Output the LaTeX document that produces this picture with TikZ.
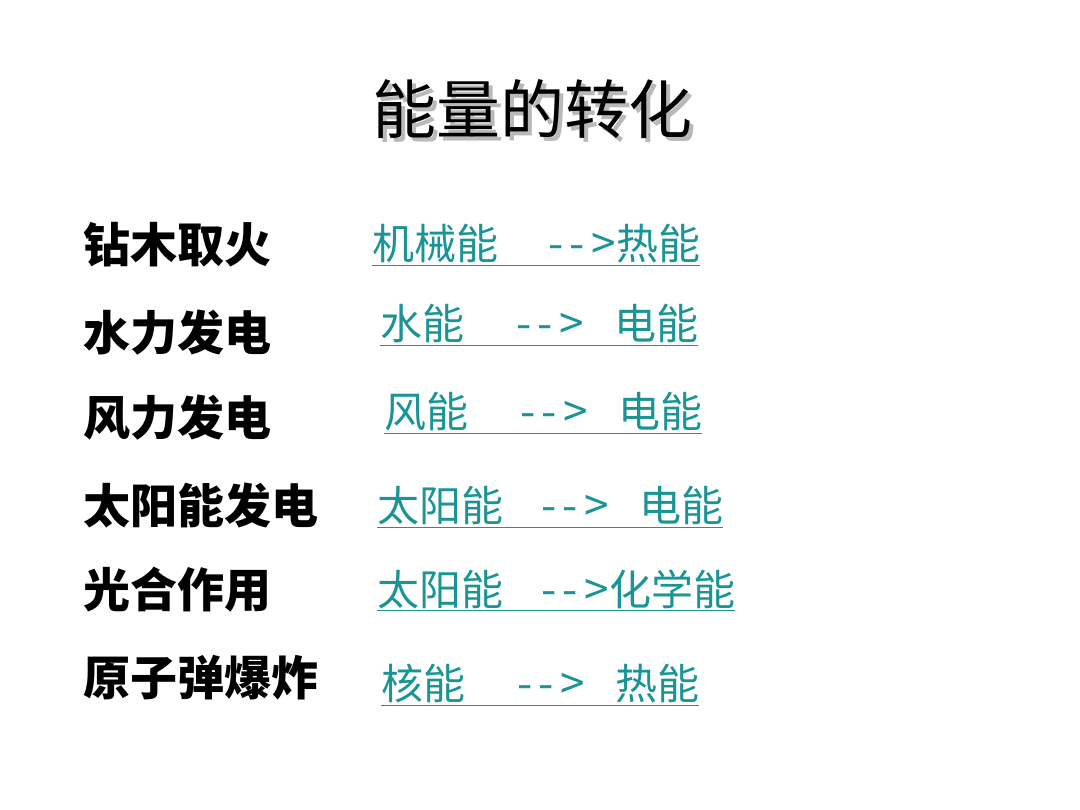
\documentclass[tikz,border=0pt]{standalone}
\usepackage{fontspec}
\setmainfont{Noto Sans CJK SC}
\definecolor{linkc}{HTML}{1A9494}
\newcommand{\arw}{\makebox[68pt][s]{\fontsize{44}{44}\selectfont-\hfil-\hfil>}}
\begin{document}
\begin{tikzpicture}[x=1pt,y=-1pt,
  lab/.style={anchor=west,inner sep=0pt,font=\fontsize{47}{47}\selectfont\bfseries},
  lnk/.style={anchor=west,inner sep=0pt,text=linkc,font=\fontsize{42}{42}\selectfont}]
\useasboundingbox (0,0) rectangle (1080,810);
\node[inner sep=0pt,text=gray!55,font=\fontsize{64}{64}\selectfont] at (536,113) {能量的转化};
\node[inner sep=0pt,font=\fontsize{64}{64}\selectfont] (title) at (532,109) {能量的转化};
\node[lab] (l1) at (83,245) {钻木取火};
\node[lab] (l2) at (83,333) {水力发电};
\node[lab] (l3) at (83,418) {风力发电};
\node[lab] (l4) at (83,505) {太阳能发电};
\node[lab] (l5) at (83,590) {光合作用};
\node[lab] (l6) at (83,678) {原子弹爆炸};
\node[lnk] (r1) at (372,245) {\underline{机械能\hspace{50pt}\arw{}热能}};
\node[lnk] (r2) at (380,325) {\underline{水能\hspace{52pt}\arw\hspace{30pt}电能}};
\node[lnk] (r3) at (384,413) {\underline{风能\hspace{52pt}\arw\hspace{30pt}电能}};
\node[lnk] (r4) at (377,507) {\underline{太阳能\hspace{38pt}\arw\hspace{30pt}电能}};
\node[lnk] (r5) at (377,590) {\underline{太阳能\hspace{38pt}\arw{}化学能}};
\node[lnk] (r6) at (381,685) {\underline{核能\hspace{52pt}\arw\hspace{30pt}热能}};
\end{tikzpicture}
\end{document}
